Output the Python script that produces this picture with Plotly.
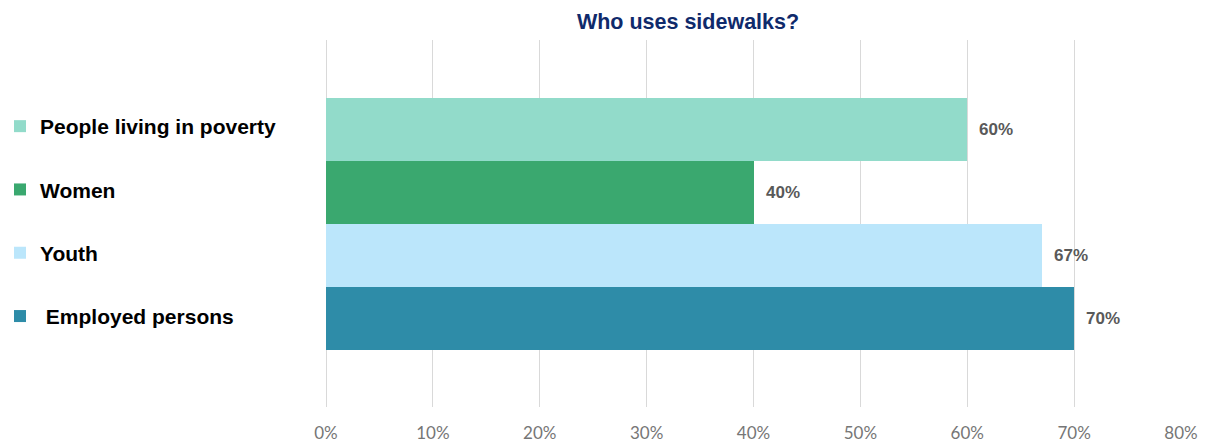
import plotly.graph_objects as go

categories = ["People living in poverty", "Women", "Youth", "Employed persons"]
legend_names = ["People living in poverty", "Women", "Youth", "\u00a0Employed persons"]
values = [60, 40, 67, 70]
value_labels = ["60%", "40%", "67%", "70%"]
bar_colors = ["#92dbca", "#3aa86f", "#bbe6fb", "#2e8ca8"]
x_tickvals = [0, 10, 20, 30, 40, 50, 60, 70, 80]
x_ticktext = ["0%", "10%", "20%", "30%", "40%", "50%", "60%", "70%", "80%"]

fig = go.Figure()
for i, cat in enumerate(categories):
    fig.add_trace(go.Bar(
        y=[cat], x=[values[i]], orientation="h",
        name=legend_names[i], legendgroup=cat,
        marker=dict(color=bar_colors[i], line=dict(width=0)),
        width=1.0, hoverinfo="skip",
    ))
    fig.add_annotation(
        x=values[i], y=cat, text=value_labels[i], showarrow=False,
        xanchor="left", yanchor="middle", xshift=10,
        font=dict(family="Liberation Sans, Arial", size=17, color="#595959", weight="bold"),
    )

fig.update_layout(
    width=1209, height=444,
    margin=dict(l=326, r=28, t=40, b=37, autoexpand=False),
    paper_bgcolor="white", plot_bgcolor="white",
    barmode="overlay", bargap=0,
    title=dict(
        text="<b>Who uses sidewalks?</b>",
        x=688 / 1209, xanchor="center", xref="container",
        y=1 - 21 / 444, yanchor="middle", yref="container",
        font=dict(family="Liberation Sans, Arial", size=21.5, color="#0f2a6b"),
    ),
    showlegend=True,
    legend=dict(
        x=0, xanchor="left", xref="container",
        y=1 - 106 / 444, yanchor="top", yref="container",
        traceorder="grouped", tracegroupgap=33, maxheight=1,
        font=dict(family="Liberation Sans, Arial", size=21, color="#000000", weight="bold"),
        bgcolor="rgba(0,0,0,0)", borderwidth=0,
    ),
    xaxis=dict(
        range=[0, 80], tickvals=x_tickvals, ticktext=x_ticktext,
        showgrid=True, gridcolor="#d9d9d9", gridwidth=1,
        zeroline=True, zerolinecolor="#d9d9d9", zerolinewidth=1,
        showline=False, ticks="", ticklabelstandoff=14, automargin=False,
        tickfont=dict(family="Lato, Open Sans", size=17, color="#767676"),
        fixedrange=True,
    ),
    yaxis=dict(
        type="category", categoryorder="array", categoryarray=categories,
        range=[4.41, -1.42], showticklabels=False, showgrid=False,
        zeroline=False, showline=False, ticks="", fixedrange=True,
        automargin=False,
    ),
)

fig.write_html("out.html")
